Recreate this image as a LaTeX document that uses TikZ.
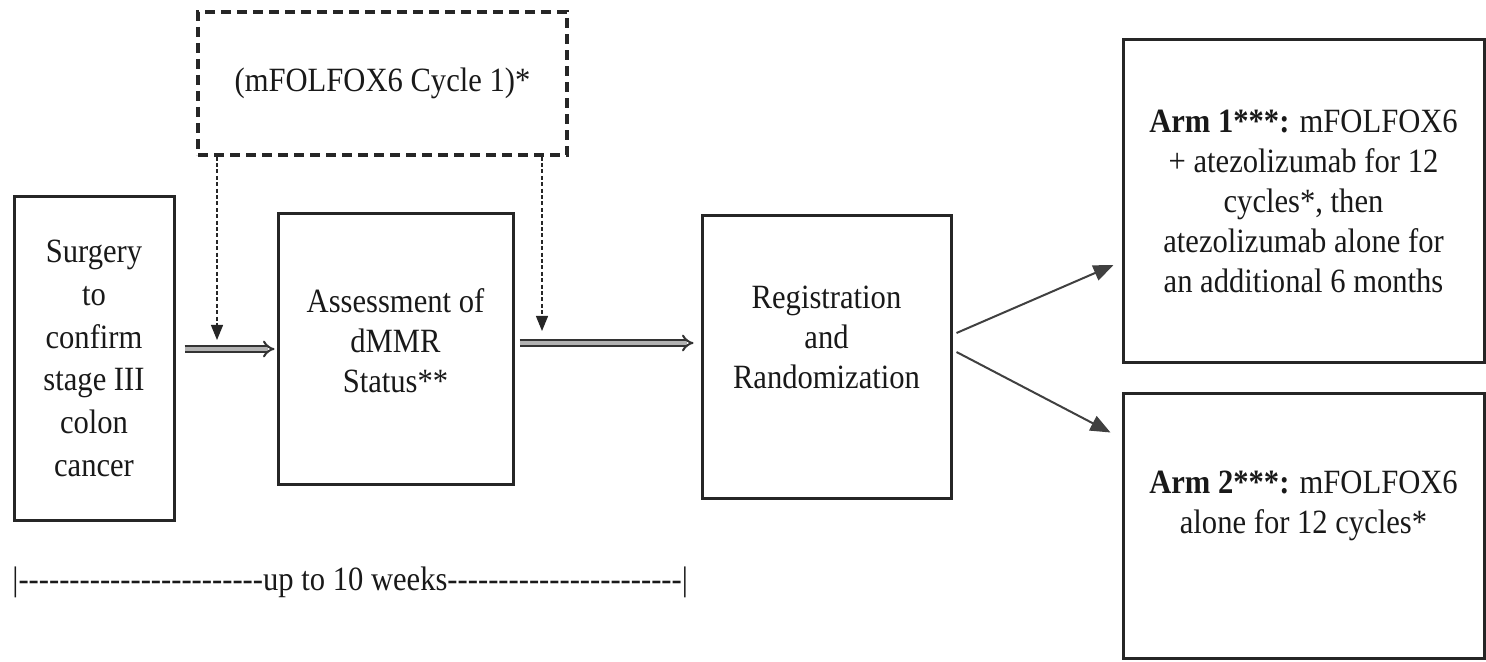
\documentclass[tikz,border=0pt]{standalone}
\usepackage{fontspec}
\setmainfont{Liberation Serif}[FakeStretch=0.9]
\usetikzlibrary{arrows.meta,calc}

% a run of separate hyphens (kept apart so no dash ligature forms)
\newcommand\hyphenrun[1]{\foreach\k in {1,...,#1}{-}}

\begin{document}
\begin{tikzpicture}[x=0.5pt,y=-0.5pt,
  box/.style={draw=black!85, line width=1.5pt, inner sep=0pt, align=center,
    text=black!90, font=\fontsize{17}{20}\selectfont},
  txt/.style={align=center, inner sep=0pt, text=black!90,
    font=\fontsize{17}{20}\selectfont},
  cyclebox/.style={draw=black!85, line width=1.6pt,
    dash pattern=on 5pt off 3pt, inner sep=0pt, text=black!90,
    font=\fontsize{17}{20}\selectfont},
  dotlink/.style={draw=black!85, line width=0.6pt, dash pattern=on 2pt off 1.2pt,
    -{Triangle[length=7.5pt,width=6pt]}},
  dblarrow/.style={draw=black!80, line width=1pt, double=black!30,
    double distance=1.8pt, -{Implies[length=3pt]}},
  armlink/.style={draw=black!75, line width=1pt,
    -{Triangle[length=10pt,width=8pt]}}]

\useasboundingbox (0,0) rectangle (1486,662);

% boxes of the flow
\node[box, minimum width=80pt, minimum height=161.5pt,
  font=\fontsize{17}{21.4}\selectfont] (surg) at (94,358.5)
  {Surgery\\to\\confirm\\stage III\\colon\\cancer};
\node[box, minimum width=117.5pt, minimum height=135pt] (assess) at (395.5,349) {};
\node[txt] (assesst) at ([yshift=4pt]assess.center) {Assessment of\\dMMR\\Status**};
\node[box, minimum width=124.5pt, minimum height=141pt] (reg) at (826.5,357) {};
\node[txt] (regt) at ([yshift=10pt]reg.center) {Registration\\and\\Randomization};
\node[box, minimum width=180.5pt, minimum height=161pt] (arm1) at (1303.5,201)
  {\textbf{Arm 1***:} mFOLFOX6\\+ atezolizumab for 12\\cycles*, then\\atezolizumab alone for\\an additional 6 months};
\node[box, minimum width=180.5pt, minimum height=132.5pt] (arm2) at (1303.5,525.5) {};
\node[txt] (arm2t) at ([yshift=10pt]arm2.center) {\textbf{Arm 2***:} mFOLFOX6\\alone for 12 cycles*};

% optional first chemotherapy cycle
\node[cyclebox, minimum width=184.5pt, minimum height=71.5pt] (cyc) at (382.5,83.5)
  {(mFOLFOX6 Cycle 1)*};
\coordinate (c1) at (217,340);
\coordinate (c2) at (542,331);
\draw[dotlink] (cyc.south -| c1) -- (c1);
\draw[dotlink] (cyc.south -| c2) -- (c2);

% main flow
\draw[dblarrow, shorten <=4.5pt, shorten >=1pt] (surg.east |- assess.west) -- (assess.west);
\draw[dblarrow, shorten <=2.5pt, shorten >=3.5pt] ([yshift=3pt]assess.east) -- ([yshift=3pt]assess.east -| reg.west);

% randomisation to the two arms
\draw[armlink] ([shift={(4,-24)}]reg.east) -- ([shift={(-8,64)}]arm1.west);
\draw[armlink] ([shift={(4,-5)}]reg.east) -- ([shift={(-11,-93)}]arm2.west);

% time span
\node[txt, anchor=west] (span) at (12,582)
  {|\hyphenrun{24}up to 10 weeks\hyphenrun{23}|};
\end{tikzpicture}
\end{document}
